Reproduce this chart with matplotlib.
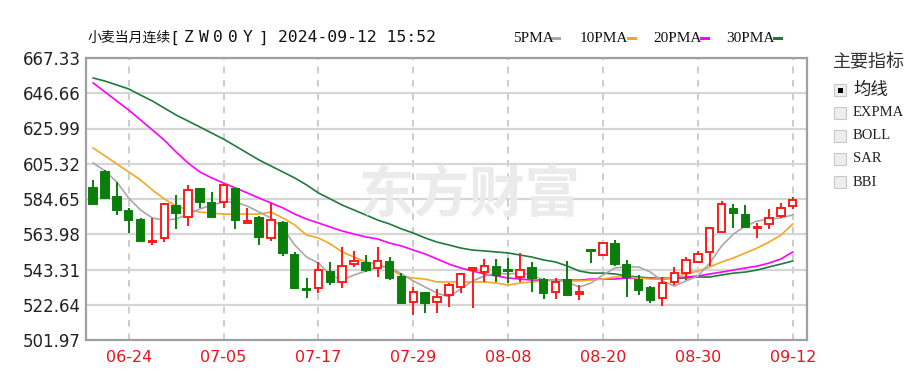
import numpy as np
import matplotlib.pyplot as plt
from matplotlib.patches import Rectangle

# trading days shown on the chart
dates = ['06-18', '06-20', '06-21', '06-24', '06-25', '06-26', '06-27', '06-28',
         '07-01', '07-02', '07-03', '07-05', '07-08', '07-09', '07-10', '07-11',
         '07-12', '07-15', '07-16', '07-17', '07-18', '07-19', '07-22', '07-23',
         '07-24', '07-25', '07-26', '07-29', '07-30', '07-31', '08-01', '08-02',
         '08-05', '08-06', '08-07', '08-08', '08-09', '08-12', '08-13', '08-14',
         '08-15', '08-16', '08-19', '08-20', '08-21', '08-22', '08-23', '08-26',
         '08-27', '08-28', '08-29', '08-30', '09-03', '09-04', '09-05', '09-06',
         '09-09', '09-10', '09-11', '09-12']
tick_dates = ['06-24', '07-05', '07-17', '07-29', '08-08', '08-20', '08-30', '09-12']

opens = [591.1, 600.5, 585.8, 577.6, 572.3, 559.4, 561.8, 580.5, 574.1, 590.5,
         582.3, 582.9, 590.5, 570.6, 573.5, 561.8, 570.6, 551.8, 531.9, 532.5,
         541.8, 536.0, 546.5, 547.1, 544.2, 547.7, 538.9, 524.3, 529.5, 524.3,
         528.4, 533.0, 543.0, 541.8, 544.8, 543.0, 538.9, 544.2, 537.1, 530.1,
         537.1, 528.9, 554.7, 551.8, 558.3, 545.9, 537.1, 532.5, 526.6, 536.0,
         541.2, 547.7, 553.6, 565.3, 578.8, 575.3, 567.6, 570.0, 574.7, 580.5]
highs = [595.8, 601.7, 594.6, 579.4, 573.5, 573.5, 582.3, 587.0, 592.9, 591.1,
         588.8, 593.5, 591.1, 579.4, 574.7, 582.3, 571.7, 553.6, 538.3, 547.7,
         547.7, 556.5, 554.2, 551.8, 556.5, 550.6, 541.2, 533.0, 530.1, 531.9,
         535.4, 541.2, 544.8, 549.5, 549.5, 550.1, 553.0, 547.7, 538.3, 538.3,
         548.3, 534.2, 554.9, 559.4, 560.6, 548.9, 540.1, 533.6, 538.9, 544.8,
         550.6, 554.2, 568.2, 583.5, 581.7, 581.1, 570.6, 578.8, 582.3, 585.8]
lows = [581.1, 584.7, 575.3, 564.7, 559.4, 557.7, 559.4, 567.1, 568.8, 579.4,
        573.5, 579.4, 567.1, 570.6, 557.7, 560.0, 551.2, 531.9, 526.6, 529.5,
        534.2, 532.5, 544.8, 541.8, 538.9, 537.1, 523.1, 516.6, 517.8, 517.8,
        521.3, 529.5, 520.7, 536.0, 536.0, 535.4, 536.0, 530.1, 526.0, 526.0,
        527.8, 525.4, 547.1, 551.2, 545.3, 527.2, 528.4, 523.7, 521.9, 534.2,
        537.1, 547.1, 545.3, 564.7, 567.6, 567.6, 561.8, 567.1, 573.5, 578.8]
closes = [581.7, 585.2, 578.2, 572.3, 560.0, 560.0, 581.7, 576.4, 589.9, 582.9,
          574.1, 592.9, 572.3, 571.7, 562.4, 572.3, 553.0, 532.5, 531.3, 543.0,
          536.0, 545.3, 548.3, 543.0, 548.3, 538.3, 523.7, 530.1, 523.7, 527.2,
          534.2, 540.7, 544.2, 545.3, 540.1, 542.4, 543.0, 538.3, 529.5, 536.0,
          528.4, 530.1, 554.2, 558.8, 546.5, 538.9, 531.3, 525.4, 535.4, 541.2,
          548.9, 552.4, 567.6, 581.7, 576.4, 568.2, 568.2, 573.5, 579.4, 584.1]

# moving averages
ma5 = [605.8, 601.1, 594.6, 585.2, 578.2, 573.5, 572.3, 572.9, 575.8, 578.8,
       581.1, 582.9, 582.9, 580.5, 577.0, 573.5, 567.6, 557.7, 550.6, 547.1,
       540.1, 537.1, 540.1, 542.4, 544.8, 544.8, 540.7, 536.6, 533.0, 529.5,
       527.2, 531.9, 536.6, 539.5, 541.2, 540.7, 541.2, 540.1, 537.1, 537.1,
       536.0, 533.0, 535.4, 540.1, 544.2, 544.8, 544.8, 541.8, 536.6, 533.6,
       536.6, 539.5, 547.1, 557.1, 564.1, 568.8, 571.7, 572.9, 573.5, 575.3]
ma10 = [614.6, 609.9, 605.2, 600.5, 595.8, 589.9, 584.7, 580.5, 578.2, 577.0,
        576.4, 575.8, 575.8, 575.8, 575.8, 577.0, 573.5, 569.4, 563.5, 561.8,
        558.3, 553.6, 550.6, 547.7, 546.5, 544.2, 539.5, 538.3, 537.7, 536.0,
        536.0, 536.0, 536.0, 536.0, 535.4, 534.2, 535.4, 536.0, 536.6, 537.1,
        536.6, 536.6, 537.1, 537.7, 538.9, 538.9, 538.3, 537.7, 537.7, 538.9,
        540.7, 542.4, 544.8, 547.7, 550.1, 553.0, 555.9, 559.4, 563.5, 570.0]
ma20 = [652.7, 647.4, 642.1, 636.8, 631.0, 625.1, 619.2, 612.2, 605.8, 600.5,
        597.0, 594.0, 591.1, 588.2, 585.2, 582.3, 579.4, 575.8, 572.9, 570.6,
        568.2, 565.9, 564.1, 562.4, 561.2, 558.8, 557.1, 554.7, 552.4, 549.5,
        546.5, 544.2, 542.4, 540.7, 539.5, 538.3, 537.7, 537.1, 537.1, 537.1,
        537.1, 537.1, 537.7, 537.7, 537.7, 538.3, 538.3, 538.3, 538.3, 538.3,
        538.9, 539.5, 540.7, 541.8, 543.0, 544.2, 545.3, 547.1, 549.5, 553.6]
ma30 = [655.6, 653.8, 651.5, 649.2, 645.6, 642.1, 638.0, 633.9, 630.4, 626.9,
        623.3, 619.8, 615.7, 611.6, 607.5, 604.0, 600.5, 597.0, 592.9, 588.2,
        584.7, 581.1, 578.2, 575.3, 572.3, 570.0, 567.1, 564.7, 561.8, 559.4,
        557.7, 555.9, 554.7, 554.2, 553.6, 553.0, 551.8, 550.6, 548.9, 547.7,
        545.3, 542.4, 541.2, 541.2, 540.7, 539.5, 538.9, 538.3, 537.7, 538.3,
        538.3, 538.9, 538.9, 540.1, 541.2, 541.8, 543.0, 544.8, 546.5, 548.3]

y_ticks = [501.97, 522.64, 543.31, 563.98, 584.65, 605.32, 625.99, 646.66, 667.33]
ma_names = ['5PMA', '10PMA', '20PMA', '30PMA']
ma_colors = ['#a8a8a8', '#f5a623', '#ff00ff', '#1f7a3c']
indicators = ['均线', 'EXPMA', 'BOLL', 'SAR', 'BBI']

W, H = 919, 382
fig = plt.figure(figsize=(W / 100, H / 100), dpi=100)
ax = fig.add_axes([86 / W, 1 - 340 / H, (807 - 86) / W, (340 - 58) / H])


def px(x, y):
    return x / W, 1 - y / H


x = np.arange(len(dates))
o, h, l, c = map(np.array, (opens, highs, lows, closes))

# watermark
fig.text(*px(470, 196), '东方财富', family=['Noto Sans CJK SC'], fontsize=40,
         fontweight='bold', color='#ebebeb', ha='center', va='center', zorder=0)

for vals, col in zip([ma30, ma20, ma10, ma5], ma_colors[::-1]):
    ax.plot(x, vals, color=col, lw=1.2, zorder=2)

up = c >= o
red, green = '#ff1a1a', '#0a7d0a'
for i in range(len(x)):
    col = red if up[i] else green
    ax.vlines(x[i], l[i], h[i], color=col, lw=1.4, zorder=3)
    lo, hi = min(o[i], c[i]), max(o[i], c[i])
    ax.bar(x[i], max(hi - lo, 0.15), bottom=lo, width=0.62,
           facecolor='white' if up[i] else green, edgecolor=col,
           linewidth=1.4, zorder=4)

ax.set_xlim(-0.6, 60.2)
ax.set_ylim(y_ticks[0], y_ticks[-1])
ax.set_yticks(y_ticks)
ax.set_yticklabels([f'{v:.2f}' for v in y_ticks])
tick_pos = [dates.index(d) for d in tick_dates]
ax.set_xticks(tick_pos)
ax.set_xticklabels(tick_dates)
ax.tick_params(axis='y', length=0, pad=4, labelsize=12, labelcolor='#222222')
ax.tick_params(axis='x', length=0, pad=7, labelsize=11.5, labelcolor='#e8151b')
ax.grid(axis='y', color='#d6d6d6', lw=1.6)
ax.grid(axis='x', color='#c4c4c4', lw=1.2, linestyle=(0, (4, 4)))
ax.set_axisbelow(True)
for s in ax.spines.values():
    s.set_color('#a0a0a0')
    s.set_linewidth(1.6)

# title: CJK part, a widely spaced code, then the timestamp
fig.text(*px(87, 38), '小麦当月连续', family=['Noto Sans CJK SC'], fontsize=10,
         color='#111111', va='center')
for k, ch in enumerate('[ZW00Y]'):
    fig.text(*px(174 + k * 14.8, 38), ch, family='DejaVu Sans Mono',
             fontsize=11.8, color='#111111', va='center', ha='center')
fig.text(*px(278, 38), '2024-09-12 15:52', family='DejaVu Sans Mono',
         fontsize=11.8, color='#111111', va='center')

leg_x = [513, 580, 653, 726]
for lx, name, col in zip(leg_x, ma_names, ma_colors):
    fig.text(*px(lx, 38), name, family='Liberation Serif', fontsize=11,
             color='#111111', va='center')
    w = 9 + 8.3 * len(name)
    fig.add_artist(Rectangle(px(lx + w - 4, 40), 10 / W, 3 / H,
                             transform=fig.transFigure, color=col, lw=0))

# indicator panel on the right
fig.text(*px(833, 62), '主要指标', family=['Noto Sans CJK SC'], fontsize=13,
         color='#333333', va='center')
for k, name in enumerate(indicators):
    yy = 90 + k * 23
    fig.add_artist(Rectangle(px(834, yy + 6), 12 / W, 12 / H,
                             transform=fig.transFigure, facecolor='#eeeeee',
                             edgecolor='#c8c8c8', lw=0.8))
    if k == 0:
        fig.add_artist(Rectangle(px(837.5, yy + 2.5), 5 / W, 5 / H,
                                 transform=fig.transFigure, color='black', lw=0))
    fam = ['Noto Sans CJK SC'] if k == 0 else 'Liberation Serif'
    fs = 12.5 if k == 0 else 10.5
    fig.text(*px(853, yy), name, family=fam, fontsize=fs, color='#222222',
             va='center')

fig.savefig('out.png', dpi=100)
